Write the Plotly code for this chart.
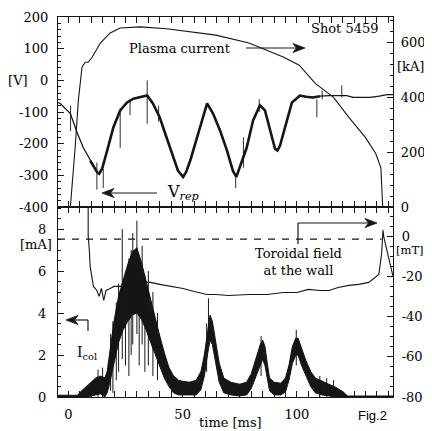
import plotly.graph_objects as go

# ---------------- data ----------------
# Plasma current [kA] (top panel, right axis)
ip_t = [-4.5, 0.9, 3, 4.4, 6, 7.4, 8.7, 10.5, 14, 18.3, 22.7, 31.4, 43, 57.6, 64.6, 79, 94, 101,
        108, 116, 122.7, 130, 134.5, 136.7, 137.5, 142]
ip_ka = [0, 0, 217, 389, 510, 528, 528, 547, 598, 635, 653, 657, 650, 635, 627, 598, 547, 517,
         451, 400, 327, 253, 194, 143, 0, 0]

# Repeller voltage V_rep [V] (top panel, left axis)
vrep_t = [-4.5, -3.5, 0.9, 4, 6.6, 9.6, 11, 12.6, 13.5, 14.8, 17, 19.7, 22.7, 25.7, 28.5, 31.4,
          34.5, 37, 40, 42, 44.5, 48, 50.2, 51.5, 53.3, 57.6, 60.7, 63.3, 66.4, 69.4, 72, 73.5,
          75, 78, 80.8, 83.8, 86, 88.2, 90.4, 91.5, 92.6, 95.6, 97.8, 101.3, 104, 107, 110,
          114.4, 118, 121.8, 124.5, 128, 132, 136, 139.3, 142]
vrep_v = [-70, -73, -105, -168, -213, -254, -270, -290, -295, -279, -222, -149, -95, -70, -58, -54,
          -48, -73, -117, -160, -213, -286, -305, -290, -254, -149, -73, -105, -159, -222, -286, -305,
          -276, -213, -127, -79, -95, -159, -216, -222, -206, -127, -70, -48, -52, -54, -50,
          -48, -48, -48, -54, -55, -54, -50, -45, -45]
# spikes on V_rep
vspk_t = [1, 12.5, 15.3, 22.7, 27, 34.5, 39.5, 73.2, 76.6, 83.5, 108.7, 111, 119.6]
vspk_lo = [-160, -345, -340, -213, -110, -137, -130, -340, -276, -100, -117, -60, -54]
vspk_hi = [-80, -260, -280, -95, -60, 0, -80, -300, -180, -60, -60, -32, -16]

# Coil current I_col [mA] (bottom panel, left axis): noisy band envelope
icol_t = [-4.5, 4, 6, 8, 10, 12, 14, 16, 17, 18, 19, 20, 22, 24, 26, 28, 30, 32, 34, 36, 38, 40,
          42, 44, 46, 48, 50, 53, 56, 58, 59.5, 61, 62, 63, 64.5, 66, 68, 71, 75, 78, 80, 82, 84,
          85, 86, 87, 88, 90, 93, 95, 96.5, 98, 99.5, 100.5, 102, 104, 106, 108, 111, 114, 117,
          120, 122, 142]
icol_hi = [0.08, 0.08, 0.3, 0.5, 0.7, 0.9, 1.0, 0.9, 1.2, 2.0, 2.8, 3.6, 4.8, 5.6, 6.3, 6.9, 7.1,
           6.4, 5.5, 4.6, 3.8, 2.9, 2.1, 1.4, 1.0, 0.8, 0.75, 0.7, 0.8, 1.2, 2.0, 3.3, 3.9, 3.6,
           2.6, 1.6, 0.9, 0.7, 0.6, 0.7, 1.1, 1.8, 2.5, 2.7, 2.4, 1.6, 0.9, 0.7, 0.65, 0.9, 1.5,
           2.4, 2.8, 2.8, 2.3, 1.7, 1.2, 0.9, 0.75, 0.6, 0.45, 0.25, 0.05, 0.05]
icol_lo = [0, 0, 0, 0, 0.05, 0.1, 0.15, 0, 0.2, 0.6, 1.1, 1.7, 2.6, 3.2, 3.6, 3.9, 4.0, 3.7, 3.2,
           2.6, 2.0, 1.4, 0.9, 0.5, 0.2, 0.1, 0.1, 0.1, 0.1, 0.35, 1.0, 2.1, 2.7, 2.5, 1.5, 0.7,
           0.2, 0.1, 0.05, 0.1, 0.4, 1.0, 1.6, 1.8, 1.5, 0.9, 0.3, 0.1, 0.1, 0.25, 0.8, 1.6, 2.0,
           2.0, 1.5, 1.0, 0.5, 0.2, 0.1, 0.05, 0, 0, 0, 0]
# spikes on I_col
ispk_t = [13, 15, 18.5, 19.5, 21, 22, 23.6, 25, 26.5, 27.5, 28.2, 30, 31, 32.3, 33.5, 35, 37, 39,
          60.5, 61.3, 84.3, 99.7, 110, 113, 116]
ispk_lo = [0, 0, 0.3, 0.2, 0.8, 1.2, 1.8, 1.5, 1.0, 2.0, 2.5, 3.0, 1.5, 2.5, 1.2, 1.5, 1.0, 0.8,
           1.2, 2.5, 1.0, 1.5, 0, 0, 0]
ispk_hi = [1.3, 1.4, 3.0, 3.6, 4.5, 5.4, 8.0, 5.8, 6.6, 7.0, 7.8, 8.4, 5.0, 7.2, 5.8, 6.0, 5.0, 4.0,
           3.5, 4.7, 2.9, 3.2, 1.0, 0.9, 0.8]

# Toroidal field at the wall [mT] (bottom panel, right axis)
bt_t = [8.7, 8.7, 9.2, 9.6, 11, 12.5, 13.5, 14.5, 15.5, 16.5, 18.3, 20, 22.7, 26, 31.4, 36, 40, 45,
        50.2, 55, 60.7, 64.6, 70, 79, 87, 94, 100, 105, 110, 114, 118, 122.7, 127, 131.4, 135.8,
        137, 137.6, 138, 139.8, 142]
bt_mt = [14.5, 0, -7, -15.4, -25, -27, -30, -26, -32, -27, -26, -25, -25, -23, -23, -23, -24, -25,
         -26, -27.5, -29, -29, -29.5, -29, -29, -28, -28, -26.5, -27, -27, -25.5, -24.5, -24, -23, -19,
         -9, 3, -0.5, -9, -20]

# ticks
x_ticks = [0, 50, 100]
v_ticks = [-400, -300, -200, -100, 0, 100, 200]
v_labels = ["-400", "-300", "-200", "-100", "[V]\u00a0\u00a0 0", "100", "200"]
ka_ticks = [0, 200, 400, 600]
ma_ticks = [0, 2, 4, 6, 8]
mt_ticks = [-80, -60, -40, -20, 0]
mt_labels = ["-80", "-60", "-40", "-20", "0"]

# ---------------- figure ----------------
INK = "#161616"
SERIF = "DejaVu Serif"
OFF = 8                      # default page body margin of the html page
W, H = 432 - OFF, 431 - OFF
L, R, T, B = 58, 39, 17, 34  # plot area in window pixels
PW, PH = 432 - L - R, 431 - T - B


def px(x):
    return (x - L) / PW


def py(y):
    return (431 - B - y) / PH


def segs(ts, lo, hi):
    xs, ys = [], []
    for t, a, b in zip(ts, lo, hi):
        xs += [t, t, None]
        ys += [a, b, None]
    return xs, ys


fig = go.Figure()

# V_rep
fig.add_trace(go.Scatter(x=vrep_t, y=vrep_v, xaxis="x2", yaxis="y", mode="lines",
                         line=dict(color=INK, width=1.3)))
mid_t = [t for t in vrep_t if 9 <= t <= 112]
mid_v = [v for t, v in zip(vrep_t, vrep_v) if 9 <= t <= 112]
fig.add_trace(go.Scatter(x=mid_t, y=mid_v, xaxis="x2", yaxis="y", mode="lines",
                         line=dict(color=INK, width=2.6)))
sx, sy = segs(vspk_t, vspk_lo, vspk_hi)
fig.add_trace(go.Scatter(x=sx, y=sy, xaxis="x2", yaxis="y", mode="lines",
                         line=dict(color=INK, width=0.9)))
# Plasma current
fig.add_trace(go.Scatter(x=ip_t, y=ip_ka, xaxis="x2", yaxis="y2", mode="lines",
                         line=dict(color=INK, width=1.1)))
# I_col band
fig.add_trace(go.Scatter(x=icol_t, y=icol_lo, xaxis="x", yaxis="y3", mode="lines",
                         line=dict(color=INK, width=1)))
fig.add_trace(go.Scatter(x=icol_t, y=icol_hi, xaxis="x", yaxis="y3", mode="lines",
                         fill="tonexty", fillcolor=INK, line=dict(color=INK, width=1.1)))
sx, sy = segs(ispk_t, ispk_lo, ispk_hi)
fig.add_trace(go.Scatter(x=sx, y=sy, xaxis="x", yaxis="y3", mode="lines",
                         line=dict(color=INK, width=1)))
# Toroidal field
fig.add_trace(go.Scatter(x=bt_t, y=bt_mt, xaxis="x", yaxis="y4", mode="lines",
                         line=dict(color=INK, width=1.1)))

tickfont = dict(family=SERIF, size=13, color="black")
common = dict(showline=True, linecolor=INK, linewidth=1.2, ticks="inside", ticklen=6,
              tickwidth=1.1, tickcolor=INK, showgrid=False, zeroline=False, tickfont=tickfont,
              automargin=False)

xcommon = dict(common, range=[-4.5, 142], tickmode="array", tickvals=x_ticks,
               ticktext=[str(v) for v in x_ticks], mirror="allticks",
               minor=dict(ticks="inside", ticklen=3, dtick=5, tick0=0, tickcolor=INK, tickwidth=1))

fig.update_layout(
    width=W, height=H, margin=dict(l=L - OFF, r=R, t=T - OFF, b=B, autoexpand=False),
    paper_bgcolor="white", plot_bgcolor="white", showlegend=False,
    font=dict(family=SERIF, size=13, color="black"),
    xaxis=dict(xcommon, domain=[0, 1], anchor="y3", ticklabelstandoff=5),
    xaxis2=dict(xcommon, domain=[0, 1], anchor="y", matches="x", showticklabels=False),
    yaxis=dict(common, domain=[0.5, 1], anchor="x2", range=[-400, 200], tickmode="array",
               tickvals=v_ticks, ticktext=v_labels, mirror=True, ticklabelstandoff=6,
               minor=dict(ticks="inside", ticklen=3, dtick=20, tick0=0, tickcolor=INK, tickwidth=1)),
    yaxis2=dict(common, overlaying="y", side="right", anchor="x2", range=[0, 693],
                tickmode="array", tickvals=ka_ticks, ticktext=[str(v) for v in ka_ticks],
                ticklabelstandoff=4,
                minor=dict(ticks="inside", ticklen=3, dtick=40, tick0=0, tickcolor=INK, tickwidth=1)),
    yaxis3=dict(common, domain=[0, 0.5], anchor="x", range=[0, 9.05], tickmode="array",
                tickvals=ma_ticks, ticktext=[str(v) for v in ma_ticks], mirror=True,
                ticklabelstandoff=8,
                minor=dict(ticks="inside", ticklen=3, dtick=0.5, tick0=0, tickcolor=INK, tickwidth=1)),
    yaxis4=dict(common, overlaying="y3", side="right", anchor="x", range=[-80, 14.5],
                tickmode="array", tickvals=mt_ticks, ticktext=mt_labels, ticklabelstandoff=5,
                minor=dict(ticks="inside", ticklen=3, dtick=5, tick0=0, tickcolor=INK, tickwidth=1)),
)

# dashed reference line (0 mT)
fig.add_shape(type="line", xref="x", yref="y4", x0=-4.5, x1=137, y0=-1.5, y1=-1.5,
              line=dict(color=INK, width=1.1, dash="7px,7px"))

ann = []


def text(x, y, s, xanchor="center", size=13, family=SERIF):
    ann.append(dict(xref="paper", yref="paper", x=px(x), y=py(y), text=s, showarrow=False,
                    xanchor=xanchor, yanchor="middle", borderpad=0,
                    font=dict(family=family, size=size, color="black")))


def seg(x0, y0, x1, y1):
    fig.add_shape(type="line", xref="paper", yref="paper", x0=px(x0), y0=py(y0), x1=px(x1), y1=py(y1),
                  line=dict(color=INK, width=1.2))


def arrow(xtip, ytip, xtail, ytail, hl=12, hw=4.5, notch=3.5):
    dx, dy = xtip - xtail, ytip - ytail
    n = (dx * dx + dy * dy) ** 0.5
    ux, uy = dx / n, dy / n
    qx, qy = -uy, ux
    bx, by = xtip - hl * ux, ytip - hl * uy
    nx, ny = xtip - (hl - notch) * ux, ytip - (hl - notch) * uy
    pts = [(xtip, ytip), (bx + hw * qx, by + hw * qy), (nx, ny), (bx - hw * qx, by - hw * qy)]
    path = "M " + " L ".join(f"{px(a):.5f},{py(b):.5f}" for a, b in pts) + " Z"
    seg(xtail, ytail, nx, ny)
    fig.add_shape(type="path", xref="paper", yref="paper", path=path,
                  fillcolor=INK, line=dict(color=INK, width=0.8))


text(180, 48, "Plasma current")
arrow(305, 48, 246, 48)
text(380, 29, "Shot 5459", xanchor="right")
text(166, 192, "V<sub><i>rep</i></sub>", xanchor="left", size=16)
arrow(102, 193, 157, 193)
text(396, 67, "[kA]", xanchor="left")

text(53, 244, "[mA]", xanchor="right")
text(395, 250, "[mT]", xanchor="left", size=11.5)
text(298, 262, "Toroidal field<br>at the wall")
seg(298, 244, 298, 223)
arrow(377, 223, 298, 223)
text(76, 353, "I<sub>col</sub>", xanchor="left", size=14)
seg(88, 331, 88, 320)
arrow(66, 320, 88, 320)
text(230, 422, "time [ms]")
text(372, 415, "Fig.2", family="Liberation Sans", size=13)

fig.update_layout(annotations=ann)

fig.write_html("out.html")
